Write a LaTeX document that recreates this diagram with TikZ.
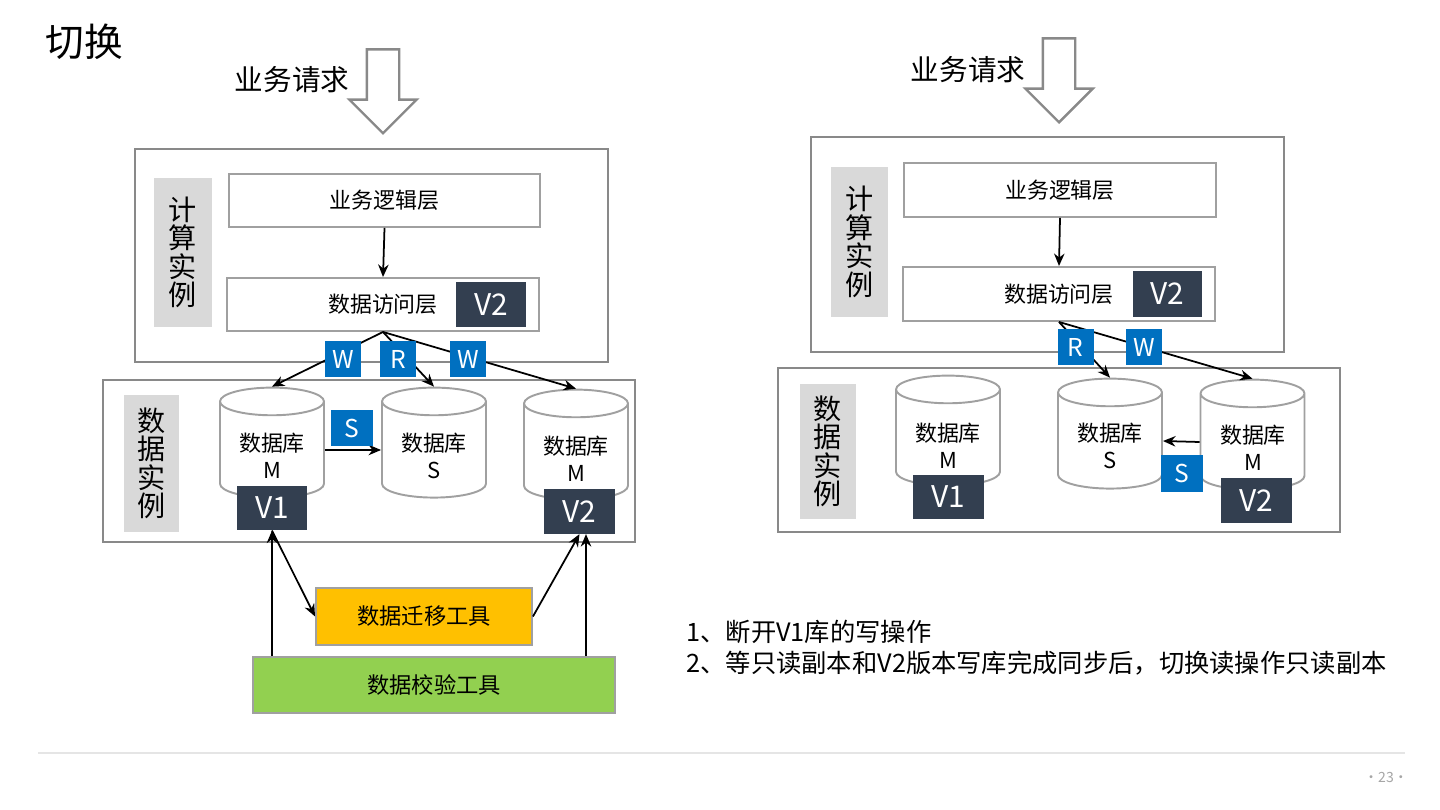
\documentclass[tikz,border=0pt]{standalone}
\usepackage{fontspec}
\setmainfont{Noto Sans CJK SC}
\usetikzlibrary{arrows.meta,shapes.geometric,shapes.arrows}

\definecolor{framegray}{RGB}{137,137,137}
\definecolor{linegray}{RGB}{160,160,160}
\definecolor{taggray}{RGB}{217,217,217}
\definecolor{verdark}{RGB}{51,63,80}
\definecolor{opblue}{RGB}{0,112,192}
\definecolor{toolgold}{RGB}{255,192,0}
\definecolor{toolgreen}{RGB}{146,208,80}

\tikzset{
  instbox/.style={draw=framegray,line width=1.2pt,inner sep=0pt},
  layerbox/.style={draw=linegray,line width=1.1pt,fill=white,minimum width=6.24cm,minimum height=1.06cm,font=\fontsize{12.5}{15}\selectfont},
  tagbox/.style={fill=taggray,align=center,inner sep=0pt,font=\fontsize{16}{16.2}\selectfont},
  verbox/.style={fill=verdark,text=white,minimum width=1.42cm,minimum height=0.89cm,inner sep=0pt,font=\fontsize{17}{20}\selectfont},
  opbox/.style={fill=opblue,text=white,minimum width=0.72cm,minimum height=0.74cm,inner sep=0pt,font=\fontsize{14}{16}\selectfont},
  dbcyl/.style={cylinder,shape border rotate=90,aspect=0.42,draw=linegray,line width=1.1pt,fill=white,minimum width=2.08cm,minimum height=2.2cm,inner sep=0pt,font=\fontsize{12.5}{15.3}\selectfont},
  dbtext/.style={align=center,inner sep=0pt,font=\fontsize{12.5}{15.3}\selectfont},
  toolbox/.style={draw=linegray,line width=1.1pt,font=\fontsize{12.7}{15}\selectfont},
  reqarrow/.style={single arrow,shape border rotate=270,draw=framegray,line width=1.4pt,fill=white,minimum height=1.68cm,minimum width=1.3cm,single arrow head extend=0.35cm,inner sep=0.3cm},
  flowarrow/.style={-{Stealth[length=2.5mm,width=2.1mm]},line width=1pt},
}

\begin{document}
\begin{tikzpicture}[x=0.02cm,y=-0.02cm]
    \useasboundingbox (0,0) rectangle (1440,810);
    \node[font=\fontsize{22}{24}\selectfont] (title) at (84,42) {切换};

    % left: before the switch
    \node[font=\fontsize{16.3}{18}\selectfont] (reqtextL) at (292,80) {业务请求};
    \node[reqarrow,anchor=tip] (reqarrowL) at (383,135) {};
    \node[instbox,minimum width=9.46cm,minimum height=4.26cm] (calcL) at (371.5,255.5) {};
    \node[tagbox,minimum width=1.16cm,minimum height=2.98cm] (tagcalcL) at (183,252.5) {计\\算\\实\\例};
    \node[layerbox,minimum width=6.22cm] (logicL) at (384.5,200.5) {业务逻辑层};
    \node[layerbox] (accessL) at (383,304.5) {数据访问层};
    \node[verbox] (veraccL) at (491,304.5) {V2};
    \node[instbox,minimum width=10.64cm,minimum height=3.24cm] (dataL) at (369,461) {};
    \node[tagbox,minimum width=1.1cm,minimum height=2.74cm] (tagdataL) at (151.5,463.5) {数\\据\\实\\例};
    \node[dbcyl] (dbm1L) at (272,450) {\phantom{数据库}};
    \node[dbtext] at (272,456) {数据库\\M};
    \node[verbox] (verm1L) at (272,508) {V1};
    \node[dbcyl] (dbsL) at (434,450) {\phantom{数据库}};
    \node[dbtext] at (434,456) {数据库\\S};
    \node[dbcyl] (dbm2L) at (576,452) {\phantom{数据库}};
    \node[dbtext] at (576,459) {数据库\\M};
    \node[verbox] (verm2L) at (579.5,511.5) {V2};
    \node[toolbox,fill=toolgold,minimum width=4.32cm,minimum height=1.14cm] (migL) at (424,616.5) {数据迁移工具};
    \node[toolbox,fill=toolgreen,minimum width=7.24cm,minimum height=1.12cm] (checkL) at (434,685) {数据校验工具};

    \draw[flowarrow] (logicL.south) -- (accessL.north);
    \draw[flowarrow] (accessL.south) -- (dbm1L.north);
    \draw[flowarrow] (accessL.south) -- (dbsL.north);
    \draw[flowarrow] (accessL.south) -- (dbm2L.north);
    \draw[flowarrow] (dbm1L.east) -- (dbsL.west);
    \draw[flowarrow] (verm1L.south |- checkL.north) -- (verm1L.south);
    \draw[flowarrow] (verm1L.south) -- (migL.west);
    \draw[flowarrow] (migL.east) -- (verm2L.south);
    \draw[flowarrow] ([xshift=0.13cm]verm2L.south |- checkL.north) -- ([xshift=0.13cm]verm2L.south);

    \node[opbox] (opw1L) at (343,359) {W};
    \node[opbox] (oprL) at (398,359) {R};
    \node[opbox] (opw2L) at (468,359) {W};
    \node[opbox,minimum width=0.84cm] (opsL) at (352,428) {S};

    % right: after the switch
    \node[font=\fontsize{16.3}{18}\selectfont] (reqtextR) at (968,70) {业务请求};
    \node[reqarrow,anchor=tip] (reqarrowR) at (1059,124) {};
    \node[instbox,minimum width=9.46cm,minimum height=4.3cm] (calcR) at (1047.5,244.5) {};
    \node[tagbox,minimum width=1.14cm,minimum height=3cm] (tagcalcR) at (859.5,242) {计\\算\\实\\例};
    \node[layerbox,minimum height=1.08cm] (logicR) at (1060,190) {业务逻辑层};
    \node[layerbox,minimum height=1.08cm] (accessR) at (1059,294) {数据访问层};
    \node[verbox,minimum width=1.38cm,minimum height=0.92cm] (veraccR) at (1167.5,294) {V2};
    \node[instbox,minimum width=11.24cm,minimum height=3.28cm] (dataR) at (1059,450) {};
    \node[tagbox,minimum width=1.12cm,minimum height=2.7cm] (tagdataR) at (828,451.5) {数\\据\\实\\例};
    \node[dbcyl] (dbm1R) at (948,438) {\phantom{数据库}};
    \node[dbtext] at (948,446) {数据库\\M};
    \node[verbox] (verm1R) at (948,497) {V1};
    \node[dbcyl] (dbsR) at (1110,441) {\phantom{数据库}};
    \node[dbtext] at (1110,446) {数据库\\S};
    \node[dbcyl] (dbm2R) at (1252.5,442) {\phantom{数据库}};
    \node[dbtext] at (1253,448) {数据库\\M};
    \node[verbox] (verm2R) at (1256,500.5) {V2};

    \draw[flowarrow] (logicR.south) -- (accessR.north);
    \draw[flowarrow] (accessR.south) -- (dbsR.north);
    \draw[flowarrow] (accessR.south) -- (dbm2R.north);
    \draw[flowarrow] (dbm2R.west) -- (dbsR.east);

    \node[opbox] (oprR) at (1075.5,347) {R};
    \node[opbox] (opwR) at (1144,347) {W};
    \node[opbox,minimum width=0.84cm] (opsR) at (1182,473.5) {S};

    \node[anchor=west,align=left,inner sep=0pt,font=\fontsize{14.4}{17.6}\selectfont] (notes) at (686,647.5) {1、断开V1库的写操作\\2、等只读副本和V2版本写库完成同步后，切换读操作只读副本};

    % footer
    \draw[draw=gray!20,line width=1pt] (38,753) -- (1405,753);
    \node[text=gray!70,font=\fontsize{8}{10}\selectfont] (pageno) at (1386,777) {·23·};
\end{tikzpicture}
\end{document}
